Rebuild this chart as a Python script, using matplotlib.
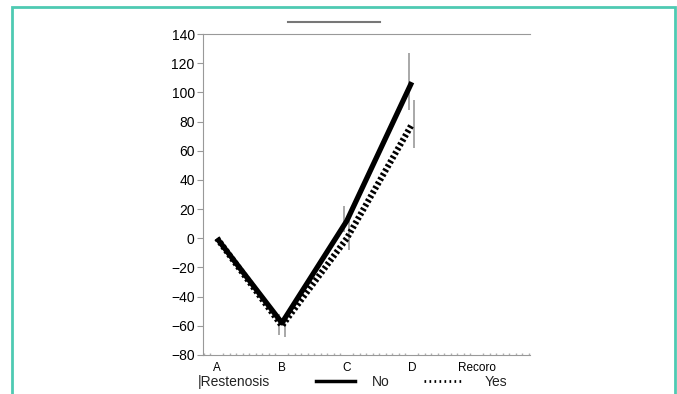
import matplotlib.pyplot as plt
from matplotlib.patches import Rectangle
from matplotlib.lines import Line2D

# --- dados ---
categorias = ["A", "B", "C", "D", "Recoro"]
no_media = [0, -58, 12, 107]
no_inf = [0, -66, 4, 88]
no_sup = [0, -52, 22, 127]
yes_media = [0, -60, 0, 78]
yes_inf = [0, -68, -8, 62]
yes_sup = [0, -54, 12, 95]

W, H = 677, 394
fig = plt.figure(figsize=(W / 100, H / 100), dpi=100)
plt.rcParams["font.family"] = ["Liberation Sans", "DejaVu Sans"]

# moldura verde-água
fig.patches.append(Rectangle((12 / W, -0.1), (675 - 12) / W, 1.1 - 7 / H,
                             transform=fig.transFigure, fill=False,
                             edgecolor="#4ecab2", linewidth=2))

ax = fig.add_axes([203 / W, 1 - 355 / H, (530 - 203) / W, (355 - 34) / H])

x = list(range(len(no_media)))
off = 0.04
ax.vlines([i - off for i in x], no_inf, no_sup, color="#999999", linewidth=1.2)
ax.vlines([i + off for i in x], yes_inf, yes_sup, color="#999999", linewidth=1.2)
ax.plot(x, yes_media, color="black", linewidth=4.5, linestyle=(0, (0.4, 0.4)),
        label="Yes", zorder=3)
ax.plot(x, no_media, color="black", linewidth=3.8, label="No", zorder=4,
        solid_capstyle="butt")

ax.set_xlim(-0.215, 4.82)
ax.set_ylim(-80, 140)
ax.set_yticks(range(-80, 141, 20))
ax.set_xticks(range(len(categorias)))
ax.set_xticklabels(categorias, fontsize=8.5)
ax.tick_params(axis="y", labelsize=10, length=4, color="#999999", pad=2)
ax.tick_params(axis="x", length=0, pad=5)
ax.set_xticks([i / 10 - 0.2 for i in range(51)], minor=True)
ax.tick_params(axis="x", which="minor", length=1.5, width=1, color="#b0b0b0",
               direction="in")

for s in ["left", "bottom", "top"]:
    ax.spines[s].set_color("#999999")
ax.spines["right"].set_visible(False)

# linha cinza acima do gráfico
fig.add_artist(Line2D([288 / W, 380 / W], [1 - 22 / H, 1 - 22 / H],
                      color="#777777", linewidth=1.5))

# legenda inferior
fig.text(198 / W, 1 - 382 / H, "|Restenosis", fontsize=10, va="center",
         color="#222222")
fig.add_artist(Line2D([316 / W, 355 / W], [1 - 381 / H, 1 - 381 / H],
                      color="black", linewidth=2.5))
fig.text(372 / W, 1 - 382 / H, "No", fontsize=10, va="center", color="#222222")
fig.add_artist(Line2D([424 / W, 462 / W], [1 - 381 / H, 1 - 381 / H],
                      color="black", linewidth=2, linestyle=(0, (0.6, 1.2))))
fig.text(485 / W, 1 - 382 / H, "Yes", fontsize=10, va="center", color="#222222")

fig.savefig("out.png", dpi=100)
